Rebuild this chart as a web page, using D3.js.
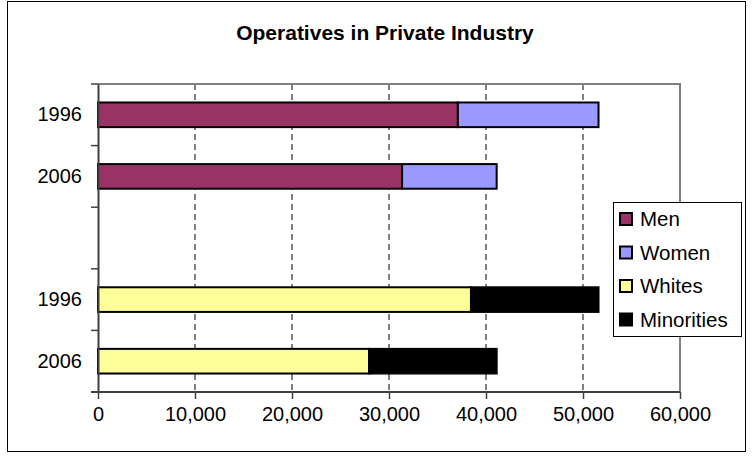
<!DOCTYPE html>
<html>
<head>
<meta charset="utf-8">
<script src="https://cdn.jsdelivr.net/npm/d3@7"></script>
<style>
	body { margin: 0; background: #fff; }
	text { font-family: Arial, "Liberation Sans", sans-serif; fill: #000; }
</style>
</head>
<body>
<div id="graphic"></div>
<script>
// data
const years = ['1996', '2006'];
const men = [37100, 31350];
const women = [14500, 9750];
const whites = [38450, 27950];
const minorities = [13150, 13150];
const xTicks = [0, 10000, 20000, 30000, 40000, 50000, 60000];

const groups = [
	{ keys: ['Men', 'Women'], values: [men, women], colours: ['#993366', '#9999FF'] },
	{ keys: ['Whites', 'Minorities'], values: [whites, minorities], colours: ['#FFFF99', '#000000'] }
];

let graphic = d3.select('#graphic');
const width = 753, height = 459;
const plot = { left: 98, right: 680, top: 84, bottom: 392 };

const svg = graphic.append('svg')
	.attr('width', width)
	.attr('height', height);

// outer chart frame
svg.append('rect')
	.attr('x', 7.5).attr('y', 1.5)
	.attr('width', 738).attr('height', 450)
	.attr('fill', '#fff')
	.attr('stroke', '#000')
	.attr('stroke-width', 1);

svg.append('text')
	.attr('x', 385)
	.attr('y', 40)
	.attr('text-anchor', 'middle')
	.style('font-weight', 'bold')
	.style('font-size', '21px')
	.text('Operatives in Private Industry');

// rows: 1996, 2006, empty gap, 1996, 2006
const rows = ['a1996', 'a2006', 'gap', 'b1996', 'b2006'];
const rowLabel = { a1996: '1996', a2006: '2006', gap: '', b1996: '1996', b2006: '2006' };

const y = d3.scaleBand()
	.domain(rows)
	.range([plot.top, plot.bottom])
	.paddingInner(0.6)
	.paddingOuter(0.3);

const x = d3.scaleLinear()
	.domain([0, 60000])
	.range([plot.left, plot.right]);

// dashed grid lines
svg.append('g')
	.selectAll('line')
	.data(xTicks.filter((d) => d > 0 && d < 60000))
	.join('line')
	.attr('x1', (d) => x(d)).attr('x2', (d) => x(d))
	.attr('y1', plot.top).attr('y2', plot.bottom)
	.attr('stroke', '#000')
	.attr('stroke-width', 1)
	.attr('stroke-dasharray', '6,4');

// plot area border (top + right in grey)
svg.append('path')
	.attr('d', `M${plot.left},${plot.top}H${plot.right}V${plot.bottom}`)
	.attr('fill', 'none')
	.attr('stroke', '#808080')
	.attr('stroke-width', 2);

// stacked bars
groups.forEach(function (g, gi) {
	years.forEach(function (yr, yi) {
		const row = (gi == 0 ? 'a' : 'b') + yr;
		let start = 0;
		g.keys.forEach(function (k, ki) {
			const v = g.values[ki][yi];
			svg.append('rect')
				.attr('x', x(start))
				.attr('y', y(row))
				.attr('width', x(start + v) - x(start))
				.attr('height', y.bandwidth())
				.attr('fill', g.colours[ki])
				.attr('stroke', '#000')
				.attr('stroke-width', 2);
			start += v;
		});
	});
});

// x axis
const xAxis = svg.append('g')
	.attr('transform', `translate(0,${plot.bottom})`)
	.call(d3.axisBottom(x)
		.tickValues(xTicks)
		.tickFormat(d3.format(','))
		.tickSize(7)
		.tickPadding(8)
		.tickSizeOuter(0));
xAxis.select('.domain').attr('stroke', '#404040').attr('stroke-width', 2)
	.attr('d', `M${plot.left - 7},0H${plot.right}`);
xAxis.selectAll('.tick line').attr('stroke', '#404040').attr('stroke-width', 1.5);
xAxis.selectAll('text').style('font-size', '20px').attr('font-family', null);

// y axis: labels centred in each row, ticks on row boundaries
const yAxis = svg.append('g')
	.attr('transform', `translate(${plot.left},0)`)
	.call(d3.axisLeft(y)
		.tickFormat((d) => rowLabel[d])
		.tickSize(0)
		.tickPadding(16));
yAxis.select('.domain').attr('stroke', '#404040').attr('stroke-width', 2);
yAxis.selectAll('text').style('font-size', '20px').attr('font-family', null);

svg.append('g')
	.selectAll('line')
	.data(d3.range(rows.length + 1))
	.join('line')
	.attr('x1', plot.left - 7).attr('x2', plot.left)
	.attr('y1', (i) => plot.top + i * y.step())
	.attr('y2', (i) => plot.top + i * y.step())
	.attr('stroke', '#404040')
	.attr('stroke-width', 1.5);

// legend
const legendKeys = groups.flatMap((g) => g.keys);
const legendColours = groups.flatMap((g) => g.colours);

const legend = svg.append('g').attr('transform', 'translate(613,202)');
legend.append('rect')
	.attr('x', 0.5).attr('y', 0.5)
	.attr('width', 128).attr('height', 134)
	.attr('fill', '#fff')
	.attr('stroke', '#000')
	.attr('stroke-width', 1);

legendKeys.forEach(function (k, i) {
	const cy = 17 + i * 33.5;
	legend.append('rect')
		.attr('x', 7).attr('y', cy - 6)
		.attr('width', 12).attr('height', 12)
		.attr('fill', legendColours[i])
		.attr('stroke', '#000')
		.attr('stroke-width', 2);
	legend.append('text')
		.attr('x', 27)
		.attr('y', cy)
		.attr('dy', '0.36em')
		.style('font-size', '20.5px')
		.text(k);
});
</script>
</body>
</html>
